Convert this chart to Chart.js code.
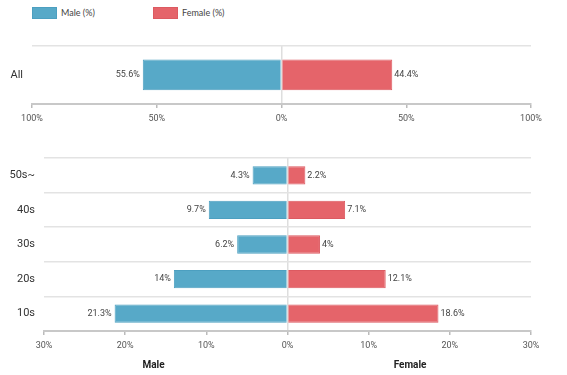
<!DOCTYPE html>
<html>
<head>
<meta charset="utf-8">
<script src="https://cdn.jsdelivr.net/npm/chart.js@4"></script>
<style>
  body { margin: 0; background: #fff; width: 567px; height: 375px; position: relative; overflow: hidden; font-family: Lato, sans-serif; }
  .legend { position: absolute; top: 7px; font-size: 9px; color: #444; line-height: 12px; }
  .legend span.box { display: inline-block; width: 23px; height: 10px; vertical-align: top; margin-right: 4px; }
  #chartTop { position: absolute; left: 0; top: 30px; width: 567px; height: 100px; }
  #chartBottom { position: absolute; left: 0; top: 140px; width: 567px; height: 235px; }
</style>
</head>
<body>
<div class="legend" style="left:32px"><span class="box" style="background:#57a9c8;border:1px solid #4c9fc0"></span>Male (%)</div>
<div class="legend" style="left:153px"><span class="box" style="background:#e5646a;border:1px solid #dc5a61"></span>Female (%)</div>
<div id="chartTop"><canvas id="graficaTotal"></canvas></div>
<div id="chartBottom"><canvas id="graficaEdad"></canvas></div>
<script>
// datos
const totalLabels = ['All'];
const totalMale = [55.6];
const totalFemale = [44.4];

const edadLabels = ['50s~', '40s', '30s', '20s', '10s'];
const edadMale = [4.3, 9.7, 6.2, 14, 21.3];
const edadFemale = [2.2, 7.1, 4, 12.1, 18.6];

const colorMale = '#57a9c8';
const colorMaleBorde = '#4c9fc0';
const colorFemale = '#e5646a';
const colorFemaleBorde = '#dc5a61';

// etiquetas de valor al final de cada barra
const etiquetasBarras = {
    id: 'etiquetasBarras',
    afterDatasetsDraw(chart) {
        const ctx = chart.ctx;
        ctx.save();
        ctx.font = '9px Roboto';
        ctx.fillStyle = '#444';
        ctx.textBaseline = 'middle';
        chart.data.datasets.forEach((ds, i) => {
            const meta = chart.getDatasetMeta(i);
            meta.data.forEach((bar, j) => {
                const texto = Math.abs(ds.data[j]) + '%';
                if (ds.data[j] < 0) {
                    ctx.textAlign = 'right';
                    ctx.fillText(texto, bar.x - 3, bar.y);
                } else {
                    ctx.textAlign = 'left';
                    ctx.fillText(texto, bar.x + 2, bar.y);
                }
            });
        });
        ctx.restore();
    }
};

// titulos Male / Female debajo del eje
const titulosEje = {
    id: 'titulosEje',
    afterDraw(chart) {
        if (!chart.options.plugins.titulosEje.show) return;
        const ctx = chart.ctx;
        const x = chart.scales.x;
        ctx.save();
        ctx.font = 'bold 10px Roboto';
        ctx.fillStyle = '#222';
        ctx.textAlign = 'center';
        ctx.textBaseline = 'middle';
        ctx.fillText('Male', x.getPixelForValue(-16.5), 225);
        ctx.fillText('Female', x.getPixelForValue(15.1), 225);
        ctx.restore();
    }
};

function dibujarPiramide(canvasId, labels, male, female, limite, paso, opciones) {
    const ctx = document.getElementById(canvasId).getContext('2d');
    new Chart(ctx, {
        type: 'bar',
        data: {
            labels: labels,
            datasets: [{
                label: 'Male (%)',
                data: male.map(v => -v),
                backgroundColor: colorMale,
                borderColor: colorMaleBorde,
                borderWidth: 1,
                borderSkipped: 'start',
                categoryPercentage: 0.6,
                barPercentage: 0.88
            }, {
                label: 'Female (%)',
                data: female,
                backgroundColor: colorFemale,
                borderColor: colorFemaleBorde,
                borderWidth: 1,
                borderSkipped: 'start',
                categoryPercentage: 0.6,
                barPercentage: 0.88
            }]
        },
        options: {
            indexAxis: 'y',
            responsive: true,
            maintainAspectRatio: false,
            animation: false,
            layout: { padding: { top: opciones.padTop, right: 36, left: 0, bottom: 0 } },
            scales: {
                x: {
                    stacked: true,
                    min: -limite,
                    max: limite,
                    afterFit: s => { s.height = opciones.altoEje; },
                    ticks: {
                        stepSize: paso,
                        padding: 5,
                        color: '#555',
                        font: { family: 'Roboto', size: 9 },
                        maxRotation: 0,
                        callback: v => Math.abs(v) + '%'
                    },
                    grid: {
                        color: c => (c.tick && c.tick.value === 0) ? '#dedede' : 'rgba(0,0,0,0)',
                        tickColor: '#bbb',
                        tickLength: 4,
                        lineWidth: 1.5
                    },
                    border: { display: true, color: '#c8c8c8', width: 2 }
                },
                y: {
                    stacked: true,
                    afterFit: s => { s.width = opciones.anchoEje; },
                    ticks: {
                        padding: 9,
                        color: '#333',
                        font: { family: 'Roboto', size: 11 }
                    },
                    grid: {
                        color: '#e3e3e3',
                        lineWidth: 1.5,
                        drawTicks: false
                    },
                    border: { display: false }
                }
            },
            plugins: {
                legend: { display: false },
                tooltip: { enabled: false },
                titulosEje: { show: opciones.titulos }
            }
        },
        plugins: [etiquetasBarras, titulosEje]
    });
}

dibujarPiramide('graficaTotal', totalLabels, totalMale, totalFemale, 100, 50,
    { padTop: 14, altoEje: 26, anchoEje: 32, titulos: false });
dibujarPiramide('graficaEdad', edadLabels, edadMale, edadFemale, 30, 10,
    { padTop: 18, altoEje: 44, anchoEje: 44, titulos: true });
</script>
</body>
</html>
